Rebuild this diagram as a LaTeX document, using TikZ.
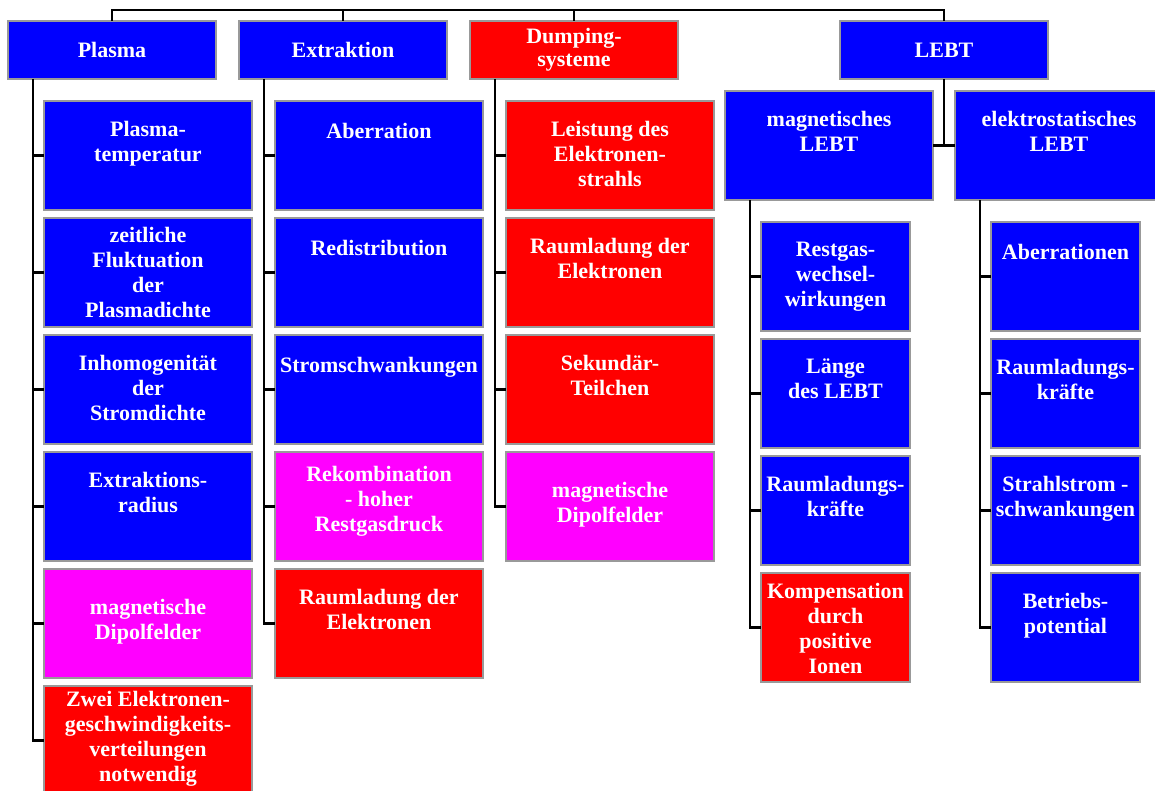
\documentclass[tikz,border=0pt]{standalone}
\usepackage{fontspec}
\setmainfont{Liberation Serif}
\usepackage{tikz}
\usetikzlibrary{positioning}

\definecolor{cblue}{RGB}{0,0,255}
\definecolor{cred}{RGB}{255,0,0}
\definecolor{cmag}{RGB}{255,0,255}
\newcommand{\cellfont}{\fontsize{11}{12.5}\selectfont\bfseries}

\tikzset{
  cell/.style={draw=gray!80, line width=0.6pt, fill=#1, minimum width=104pt, minimum height=54.5pt, inner sep=0pt, outer sep=0pt},
  small/.style={cell=#1, minimum width=74.5pt},
  head/.style={cell=#1, minimum height=29pt, text=white, font=\cellfont, align=center},
  txt/.style={anchor=north, yshift=#1, align=center, text=white, font=\cellfont, inner sep=0pt, execute at begin node=\strut},
  txt/.default=-9.8pt,
  conn/.style={line width=1.2pt, black}
}

\begin{document}
\begin{tikzpicture}[x=0.5pt, y=-0.5pt]
    \fill[white] (0,0) rectangle (1155,791);
    \useasboundingbox (0,0) rectangle (1155,791);

    % Top row
    \coordinate (top) at (0,10);
    \node[head=cblue] (p0) at (112,50) {Plasma};
    \node[head=cblue] (e0) at (343,50) {Extraktion};
    \node[head=cred]  (d0) at (574,50) {\raisebox{-2pt}{\shortstack{Dumping-\\systeme}}};
    \node[head=cblue] (l0) at (944,50) {LEBT};

    \draw[conn] (p0.north) -- (p0.north |- top) -- (l0.north |- top) -- (l0.north);
    \draw[conn] (e0.north) -- (e0.north |- top);
    \draw[conn] (d0.north) -- (d0.north |- top);

    % Plasma
    \node[cell=cblue, below=11pt of p0, xshift=18pt] (p1) {};
    \node[cell=cblue, below=4pt of p1] (p2) {};
    \node[cell=cblue, below=4pt of p2] (p3) {};
    \node[cell=cblue, below=4pt of p3] (p4) {};
    \node[cell=cmag,  below=4pt of p4] (p5) {};
    \node[cell=cred,  below=4pt of p5] (p6) {};
    \node[txt] (p1t) at (p1.north) {Plasma-\\temperatur};
    \node[txt=-4.6pt] (p2t) at (p2.north) {zeitliche\\Fluktuation\\der\\Plasmadichte};
    \node[txt] (p3t) at (p3.north) {Inhomogenität\\der\\Stromdichte};
    \node[txt] (p4t) at (p4.north) {Extraktions-\\radius};
    \node[txt=-15.1pt] (p5t) at (p5.north) {magnetische\\Dipolfelder};
    \node[txt=-2.6pt] (p6t) at (p6.north) {Zwei Elektronen-\\geschwindigkeits-\\verteilungen\\notwendig};

    \coordinate (ps) at ([xshift=12.5pt]p0.south west);
    \draw[conn] (ps) |- (p6.west);
    \foreach \i in {1,...,5}
        \draw[conn] (ps |- p\i.west) -- (p\i.west);

    % Extraktion
    \node[cell=cblue, below=11pt of e0, xshift=18pt] (e1) {};
    \node[cell=cblue, below=4pt of e1] (e2) {};
    \node[cell=cblue, below=4pt of e2] (e3) {};
    \node[cell=cmag,  below=4pt of e3] (e4) {};
    \node[cell=cred,  below=4pt of e4] (e5) {};
    \node[txt] (e1t) at (e1.north) {Aberration};
    \node[txt] (e2t) at (e2.north) {Redistribution};
    \node[txt] (e3t) at (e3.north) {Stromschwankungen};
    \node[txt=-7.1pt] (e4t) at (e4.north) {Rekombination\\- hoher\\Restgasdruck};
    \node[txt] (e5t) at (e5.north) {Raumladung der\\Elektronen};

    \coordinate (es) at ([xshift=12.5pt]e0.south west);
    \draw[conn] (es) |- (e5.west);
    \foreach \i in {1,...,4}
        \draw[conn] (es |- e\i.west) -- (e\i.west);

    % Dumpingsysteme
    \node[cell=cred, below=11pt of d0, xshift=18pt] (d1) {};
    \node[cell=cred, below=4pt of d1] (d2) {};
    \node[cell=cred, below=4pt of d2] (d3) {};
    \node[cell=cmag, below=4pt of d3] (d4) {};
    \node[txt] (d1t) at (d1.north) {Leistung des\\Elektronen-\\strahls};
    \node[txt] (d2t) at (d2.north) {Raumladung der\\Elektronen};
    \node[txt] (d3t) at (d3.north) {Sekundär-\\Teilchen};
    \node[txt=-15.1pt] (d4t) at (d4.north) {magnetische\\Dipolfelder};

    \coordinate (ds) at ([xshift=12.5pt]d0.south west);
    \draw[conn] (ds) |- (d4.west);
    \foreach \i in {1,...,3}
        \draw[conn] (ds |- d\i.west) -- (d\i.west);

    % LEBT
    \node[cell=cblue] (lm) at (829,145.5) {};
    \node[cell=cblue] (le) at (1059,145.5) {};
    \node[txt] (lmt) at (lm.north) {magnetisches\\LEBT};
    \node[txt] (let) at (le.north) {elektrostatisches\\LEBT};
    \draw[conn] (l0.south) -- (l0.south |- lm.east);
    \draw[conn] (lm.east) -- (le.west);

    % magnetisches LEBT
    \node[small=cblue, below=11pt of lm, xshift=3.25pt] (m1) {};
    \node[small=cblue, below=4pt of m1] (m2) {};
    \node[small=cblue, below=4pt of m2] (m3) {};
    \node[small=cred,  below=4pt of m3] (m4) {};
    \node[txt] (m1t) at (m1.north) {Restgas-\\wechsel-\\wirkungen};
    \node[txt] (m2t) at (m2.north) {Länge\\des LEBT};
    \node[txt] (m3t) at (m3.north) {Raumladungs-\\kräfte};
    \node[txt=-5.1pt] (m4t) at (m4.north) {Kompensation\\durch\\positive\\Ionen};

    \coordinate (ms) at ([xshift=12.5pt]lm.south west);
    \draw[conn] (ms) |- (m4.west);
    \foreach \i in {1,...,3}
        \draw[conn] (ms |- m\i.west) -- (m\i.west);

    % elektrostatisches LEBT
    \node[small=cblue, below=11pt of le, xshift=3.25pt] (s1) {};
    \node[small=cblue, below=4pt of s1] (s2) {};
    \node[small=cblue, below=4pt of s2] (s3) {};
    \node[small=cblue, below=4pt of s3] (s4) {};
    \node[txt] (s1t) at (s1.north) {Aberrationen};
    \node[txt] (s2t) at (s2.north) {Raumladungs-\\kräfte};
    \node[txt] (s3t) at (s3.north) {Strahlstrom -\\schwankungen};
    \node[txt] (s4t) at (s4.north) {Betriebs-\\potential};

    \coordinate (ss) at ([xshift=12.5pt]le.south west);
    \draw[conn] (ss) |- (s4.west);
    \foreach \i in {1,...,3}
        \draw[conn] (ss |- s\i.west) -- (s\i.west);
\end{tikzpicture}
\end{document}
